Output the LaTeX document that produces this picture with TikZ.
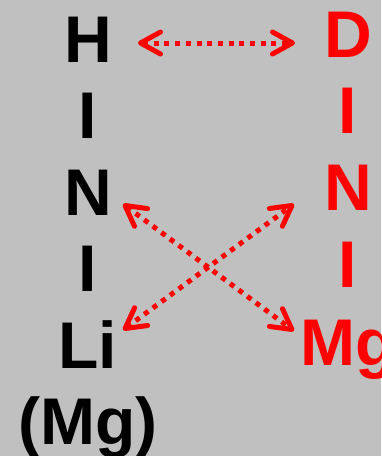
\documentclass[tikz,border=0pt]{standalone}
\usepackage{fontspec}
\setmainfont{Liberation Sans}
\usepackage{xcolor}
\usetikzlibrary{arrows.meta}
\definecolor{bggray}{HTML}{C0C0C0}

\begin{document}
\begin{tikzpicture}[
        x=1pt, y=-1pt,
        every node/.style={inner sep=0pt, anchor=base, font=\fontsize{66}{66}\selectfont\bfseries},
        hydride/.style={text=black},
        deuteride/.style={text=red},
        exchange/.style={draw=red, line width=5pt, dash pattern=on 5pt off 5.7pt,
            {Straight Barb[length=20pt, width=22pt, round]}-{Straight Barb[length=20pt, width=22pt, round]}}
    ]
    \path[use as bounding box, fill=bggray] (0,0) rectangle (381,456);
    % left column
    \node[hydride] (h) at (88,62) {H};
    \node[hydride] (hbond) at (88,138.5) {I};
    \node[hydride] (n) at (88,215) {N};
    \node[hydride] (nbond) at (88,291) {I};
    \node[hydride] (li) at (88,368) {Li};
    \node[hydride] (mg) at (88,444.5) {(Mg)};
    % right column
    \node[deuteride] (d) at (348,57) {D};
    \node[deuteride] (dbond) at (348,133) {I};
    \node[deuteride] (nd) at (348,210) {N};
    \node[deuteride] (ndbond) at (348,287) {I};
    \node[deuteride] (mgd) at (348,365) {Mg};
    % exchange arrows
    \draw[exchange] ([shift={(50,-19)}]h.base) -- ([shift={(-53,-14)}]d.base);
    \draw[exchange] ([shift={(35,-11)}]n.base) -- ([shift={(-54,-34)}]mgd.base);
    \draw[exchange] ([shift={(35,-38)}]li.base) -- ([shift={(-54,-6)}]nd.base);
\end{tikzpicture}
\end{document}
